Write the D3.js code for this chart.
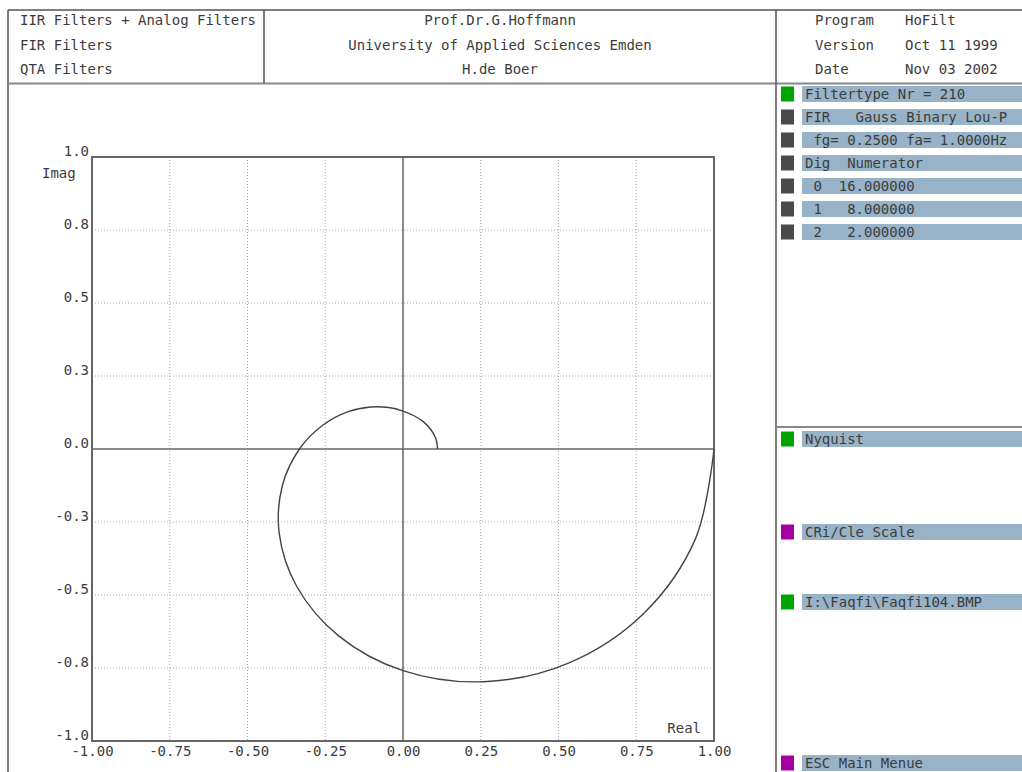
<!DOCTYPE html>
<html>
<head>
<meta charset="utf-8">
<script src="https://cdn.jsdelivr.net/npm/d3@7"></script>
<style>
  body { margin: 0; background: #fff; }
  svg text { font-family: "DejaVu Sans Mono", monospace; font-size: 14px; fill: #3c3c3c; white-space: pre; }
</style>
</head>
<body>
<svg id="chart" width="1022" height="772"></svg>
<script>
// header texts
const headLeft = ['IIR Filters + Analog Filters', 'FIR Filters', 'QTA Filters'];
const headMid = ['Prof.Dr.G.Hoffmann', 'University of Applied Sciences Emden', 'H.de Boer'];
const headKeys = ['Program', 'Version', 'Date'];
const headVals = ['HoFilt', 'Oct 11 1999', 'Nov 03 2002'];

// right panel
const infoRows = ['Filtertype Nr = 210', 'FIR   Gauss Binary Lou-P', ' fg= 0.2500 fa= 1.0000Hz',
  'Dig  Numerator', ' 0  16.000000', ' 1   8.000000', ' 2   2.000000'];
const infoState = ['on', 'off', 'off', 'off', 'off', 'off', 'off'];
const menuRows = ['Nyquist', 'CRi/Cle Scale', 'I:\\Faqfi\\Faqfi104.BMP', 'ESC Main Menue'];
const menuState = ['on', 'act', 'on', 'act'];

// axes
const xTicks = [-1, -0.75, -0.5, -0.25, 0, 0.25, 0.5, 0.75, 1];
const xTickLabels = ['-1.00', '-0.75', '-0.50', '-0.25', '0.00', '0.25', '0.50', '0.75', '1.00'];
const yTicks = [-1, -0.75, -0.5, -0.25, 0, 0.25, 0.5, 0.75, 1];
const yTickLabels = ['-1.0', '-0.8', '-0.5', '-0.3', '0.0', '0.3', '0.5', '0.8', '1.0'];

// nyquist curve, from f=0 to f=fa/2
const re = [1.000, 0.941, 0.774, 0.532, 0.259, 0.000, -0.208, -0.342, -0.398, -0.388, -0.333,
  -0.256, -0.176, -0.104, -0.046, 0.000, 0.037, 0.067, 0.090, 0.106, 0.111];
const im = [0.000, -0.306, -0.563, -0.733, -0.797, -0.759, -0.639, -0.470, -0.289, -0.126, 0.000,
  0.083, 0.128, 0.144, 0.142, 0.130, 0.113, 0.092, 0.066, 0.034, 0.000];

const svg = d3.select('#chart');
const lineCol = '#555';
const stateCol = {on: '#00a400', off: '#4a4a4a', act: '#a400a4'};

// ---- frame ----
svg.append('line').attr('x1', 8).attr('x2', 1022).attr('y1', 10).attr('y2', 10)
  .attr('stroke', lineCol).attr('stroke-width', 1.5);
svg.append('line').attr('x1', 8).attr('x2', 8).attr('y1', 10).attr('y2', 772)
  .attr('stroke', lineCol).attr('stroke-width', 1.5);
svg.append('line').attr('x1', 8).attr('x2', 1022).attr('y1', 83.5).attr('y2', 83.5)
  .attr('stroke', '#888').attr('stroke-width', 2);
svg.append('line').attr('x1', 264).attr('x2', 264).attr('y1', 10).attr('y2', 83)
  .attr('stroke', lineCol).attr('stroke-width', 1.5);
svg.append('line').attr('x1', 776).attr('x2', 776).attr('y1', 10).attr('y2', 772)
  .attr('stroke', lineCol).attr('stroke-width', 1.5);
svg.append('line').attr('x1', 776).attr('x2', 1022).attr('y1', 427).attr('y2', 427)
  .attr('stroke', '#888').attr('stroke-width', 2);

// ---- header ----
const rowY = i => 25 + i * 24.5;
svg.selectAll('.hl').data(headLeft).join('text').attr('class', 'hl')
  .attr('x', 20).attr('y', (d, i) => rowY(i)).text(d => d);
svg.selectAll('.hm').data(headMid).join('text').attr('class', 'hm')
  .attr('x', 500).attr('y', (d, i) => rowY(i)).attr('text-anchor', 'middle').text(d => d);
svg.selectAll('.hk').data(headKeys).join('text').attr('class', 'hk')
  .attr('x', 815).attr('y', (d, i) => rowY(i)).text(d => d);
svg.selectAll('.hv').data(headVals).join('text').attr('class', 'hv')
  .attr('x', 905).attr('y', (d, i) => rowY(i)).text(d => d);

// ---- right panel ----
function panelRow(txt, state, cy) {
  const g = svg.append('g');
  g.append('rect').attr('x', 781).attr('y', cy - 7.5).attr('width', 13).attr('height', 15)
    .attr('fill', stateCol[state]);
  g.append('rect').attr('x', 802).attr('y', cy - 8).attr('width', 220).attr('height', 16)
    .attr('fill', '#98b3c7');
  g.append('text').attr('x', 805).attr('y', cy + 5).text(txt);
}
infoRows.forEach((t, i) => panelRow(t, infoState[i], 94 + i * 23));
const menuY = [439, 532, 602, 763];
menuRows.forEach((t, i) => panelRow(t, menuState[i], menuY[i]));

// ---- plot ----
const x = d3.scaleLinear().domain([-1, 1]).range([92, 714]);
const y = d3.scaleLinear().domain([-1, 1]).range([741, 157]);

const grid = svg.append('g');
grid.selectAll('.gx').data(xTicks.filter(d => d > -1 && d < 1)).join('line')
  .attr('x1', d => x(d)).attr('x2', d => x(d)).attr('y1', y(1)).attr('y2', y(-1))
  .attr('stroke', d => d === 0 ? '#666' : '#aaa')
  .attr('stroke-width', d => d === 0 ? 1.5 : 1)
  .attr('stroke-dasharray', d => d === 0 ? null : '1,2');
grid.selectAll('.gy').data(yTicks.filter(d => d > -1 && d < 1)).join('line')
  .attr('y1', d => y(d)).attr('y2', d => y(d)).attr('x1', x(-1)).attr('x2', x(1))
  .attr('stroke', d => d === 0 ? '#666' : '#aaa')
  .attr('stroke-width', d => d === 0 ? 1.5 : 1)
  .attr('stroke-dasharray', d => d === 0 ? null : '1,2');

svg.append('rect').attr('x', x(-1)).attr('y', y(1))
  .attr('width', x(1) - x(-1)).attr('height', y(-1) - y(1))
  .attr('fill', 'none').attr('stroke', '#666').attr('stroke-width', 2);

const xAxis = svg.append('g').attr('transform', `translate(0,${y(-1)})`)
  .call(d3.axisBottom(x).tickValues(xTicks).tickFormat((d, i) => xTickLabels[i])
    .tickSize(0).tickPadding(5));
const yAxis = svg.append('g').attr('transform', `translate(${x(-1) - 3},0)`)
  .call(d3.axisLeft(y).tickValues(yTicks).tickFormat((d, i) => yTickLabels[i])
    .tickSize(0).tickPadding(0));
[xAxis, yAxis].forEach(a => {
  a.select('.domain').remove();
  a.attr('font-family', null).attr('font-size', null);
  a.selectAll('text').attr('fill', null);
});
yAxis.selectAll('text').attr('dy', '-0.1em');

svg.append('text').attr('x', 42).attr('y', 178).text('Imag');
svg.append('text').attr('x', 701).attr('y', 733).attr('text-anchor', 'end').text('Real');

const pts = re.map((r, i) => [r, im[i]]);
svg.append('path').datum(pts)
  .attr('d', d3.line().x(d => x(d[0])).y(d => y(d[1])).curve(d3.curveCatmullRom))
  .attr('fill', 'none').attr('stroke', '#444').attr('stroke-width', 1.4);
</script>
</body>
</html>
